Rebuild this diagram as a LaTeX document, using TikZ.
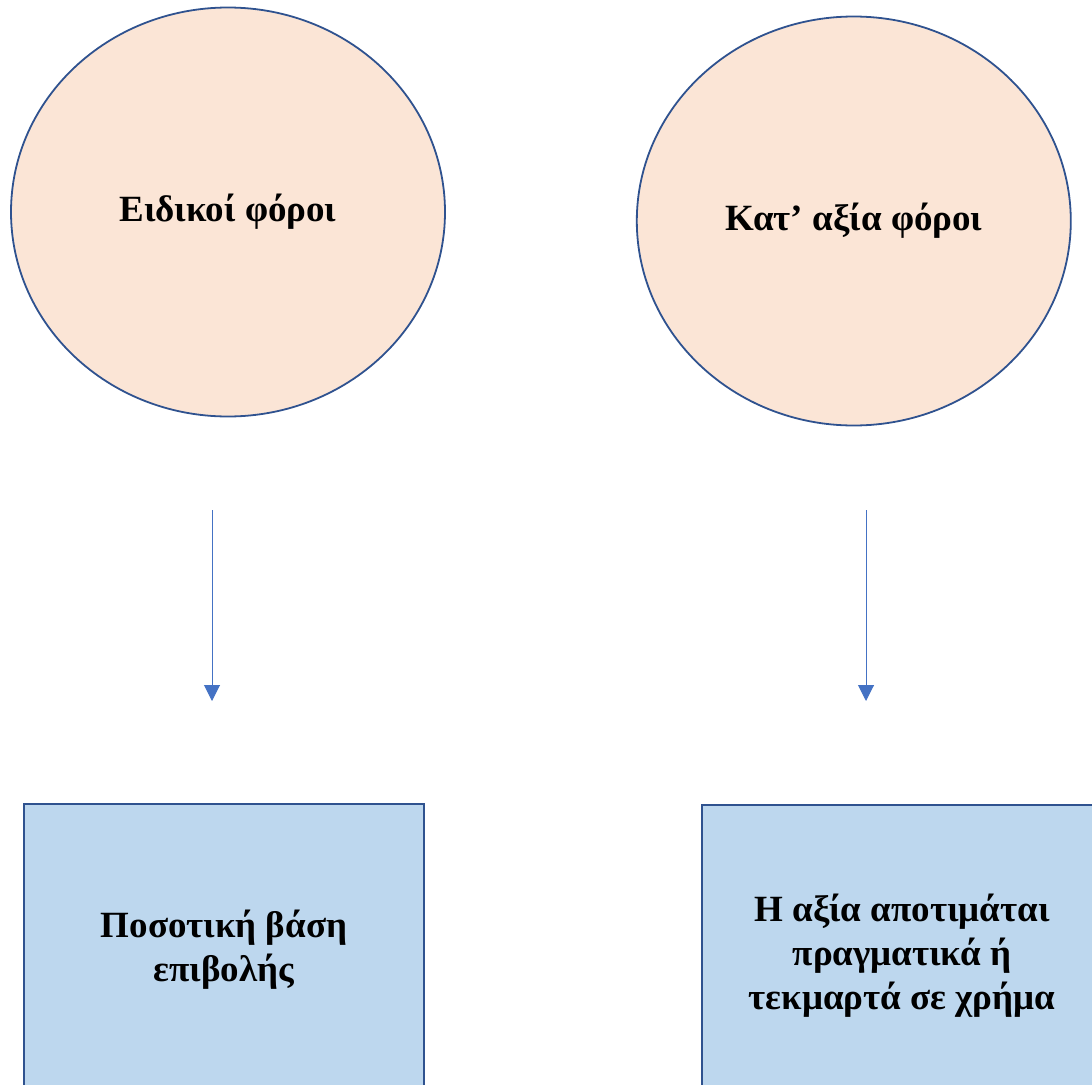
\documentclass[tikz,border=0pt]{standalone}
\usepackage{fontspec}
\setmainfont{Liberation Serif}
\usepackage{tikz}
\usetikzlibrary{shapes.geometric}
\usetikzlibrary{arrows.meta, positioning}

\definecolor{edgeblue}{HTML}{2F528F}
\definecolor{arrowblue}{HTML}{4472C4}
\definecolor{peach}{HTML}{FBE5D6}
\definecolor{paleblue}{HTML}{BDD7EE}

\begin{document}
\begin{tikzpicture}[x=1pt, y=-1pt,
        taxcircle/.style={
            ellipse,
            draw=edgeblue,
            line width=1.8pt,
            fill=peach,
            inner sep=0pt,
            minimum width=434pt,
            minimum height=409pt,
            font=\bfseries\fontsize{37}{44}\selectfont
        },
        basebox/.style={
            rectangle,
            draw=edgeblue,
            line width=1.8pt,
            fill=paleblue,
            minimum width=400pt,
            align=center,
            font=\bfseries\fontsize{37}{44}\selectfont
        },
        arrow/.style={
            -{Triangle[width=16pt,length=16pt]},
            line width=1pt,
            draw=arrowblue
        }
    ]
    \useasboundingbox (0,0) rectangle (1092,1084);

    % Circles for the two kinds of tax
    \node[taxcircle] (special) at (228,212) {Ειδικοί φόροι};
    \node[taxcircle, right=190pt of special, yshift=-9pt] (advalorem) {Κατ’ αξία φόροι};

    % Boxes below
    \node[basebox, minimum height=292pt] (quantity) at (224,950) {Ποσοτική βάση\\επιβολής};
    \node[basebox, minimum height=302pt] (value) at (902,956) {Η αξία αποτιμάται\\πραγματικά ή\\τεκμαρτά σε χρήμα};

    % Arrows between them
    \coordinate (sp-start) at (212,510);
    \coordinate (sp-end) at (212,701);
    \coordinate (av-start) at (866,510);
    \coordinate (av-end) at (866,701);
    \draw[arrow] (sp-start) -- (sp-end);
    \draw[arrow] (av-start) -- (av-end);

\end{tikzpicture}
\end{document}
